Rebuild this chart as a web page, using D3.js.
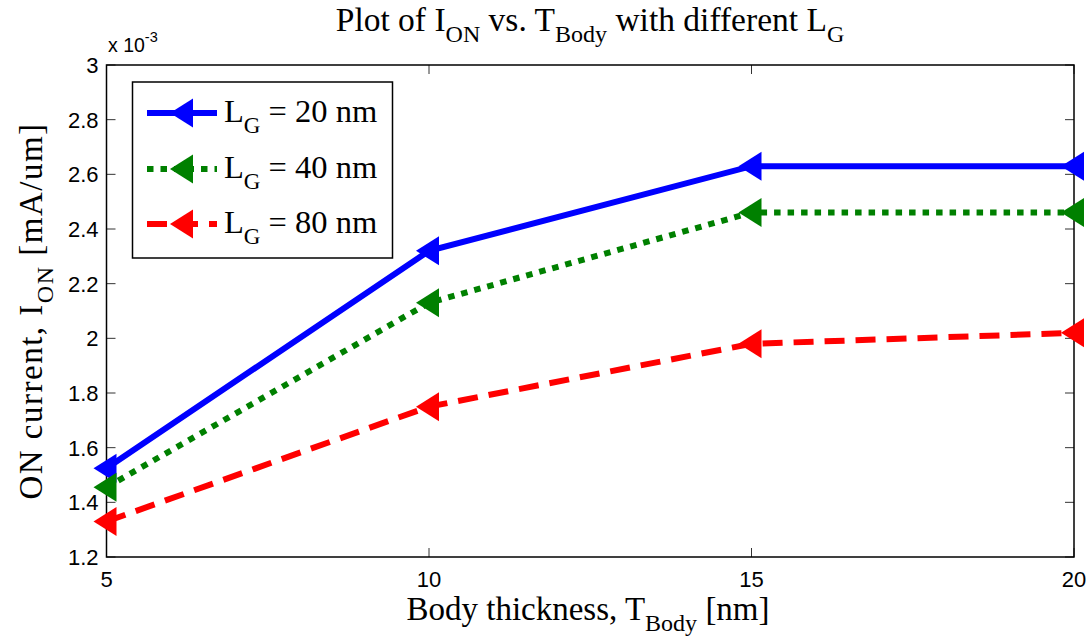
<!DOCTYPE html>
<html>
<head>
<meta charset="utf-8">
<script src="https://cdn.jsdelivr.net/npm/d3@7"></script>
<style>
  body { margin: 0; background: #fff; }
  svg { display: block; }
</style>
</head>
<body>
<div id="chart"></div>
<script>
// body thickness values (nm)
var tBody = [5, 10, 15, 20];
// ON current (x 1e-3 mA/um) for each gate length
var ion20 = [1.525, 2.32, 2.63, 2.63];
var ion40 = [1.455, 2.13, 2.46, 2.46];
var ion80 = [1.33, 1.75, 1.98, 2.02];
var seriesNames = ["20", "40", "80"];
var xTicks = [5, 10, 15, 20];
var yTicks = [1.2, 1.4, 1.6, 1.8, 2, 2.2, 2.4, 2.6, 2.8, 3];

var WIDTH = 1089, HEIGHT = 644;
var margin = {top: 65, right: 15, bottom: 87, left: 106.5};

var svg = d3.select("#chart").append("svg")
  .attr("width", WIDTH)
  .attr("height", HEIGHT);

var x = d3.scaleLinear().domain([5, 20]).range([margin.left, WIDTH - margin.right]);
var y = d3.scaleLinear().domain([1.2, 3]).range([HEIGHT - margin.bottom, margin.top]);

var series = [
  {name: seriesNames[0], values: ion20, color: "#0000ff", dash: null},
  {name: seriesNames[1], values: ion40, color: "#008000", dash: "6.5,7"},
  {name: seriesNames[2], values: ion80, color: "#ff0000", dash: "20,11"}
];

// ticks (inward, on all four sides like matlab box)
var tickLen = 9;
var ticks = svg.append("g").attr("stroke", "#333").attr("stroke-width", 1);
yTicks.forEach(function(v) {
  ticks.append("line").attr("x1", x(5)).attr("x2", x(5) + tickLen).attr("y1", y(v)).attr("y2", y(v));
  ticks.append("line").attr("x1", x(20)).attr("x2", x(20) - tickLen).attr("y1", y(v)).attr("y2", y(v));
});
xTicks.forEach(function(v) {
  ticks.append("line").attr("x1", x(v)).attr("x2", x(v)).attr("y1", y(1.2)).attr("y2", y(1.2) - tickLen);
  ticks.append("line").attr("x1", x(v)).attr("x2", x(v)).attr("y1", y(3)).attr("y2", y(3) + tickLen);
});

// frame
svg.append("rect")
  .attr("x", x(5)).attr("y", y(3))
  .attr("width", x(20) - x(5)).attr("height", y(1.2) - y(3))
  .attr("fill", "none").attr("stroke", "#000").attr("stroke-width", 1.5);

// tick labels
var tickFont = "'Liberation Sans', Arial, sans-serif";
svg.append("g").selectAll("text").data(yTicks).join("text")
  .attr("x", x(5) - 8)
  .attr("y", d => y(d) + 8)
  .attr("text-anchor", "end")
  .style("font-family", tickFont).style("font-size", "22px")
  .text(d => d3.format("")(d));

svg.append("g").selectAll("text").data(xTicks).join("text")
  .attr("x", d => x(d))
  .attr("y", y(1.2) + 30)
  .attr("text-anchor", "middle")
  .style("font-family", tickFont).style("font-size", "22px")
  .text(d => d);

// exponent label
var expo = svg.append("text")
  .attr("x", 108).attr("y", 52)
  .style("font-family", tickFont).style("font-size", "19.5px");
expo.append("tspan").text("x 10");
expo.append("tspan").attr("dy", -10).style("font-size", "14.5px").text("-3");

// lines + markers
var line = d3.line().x((d, i) => x(tBody[i])).y(d => y(d));
var triangle = "M-13,0L10,-14.5L10,14.5Z";

series.forEach(function(s) {
  svg.append("path")
    .datum(s.values)
    .attr("d", line)
    .attr("fill", "none")
    .attr("stroke", s.color)
    .attr("stroke-width", 6)
    .attr("stroke-dasharray", s.dash);
  svg.append("g").selectAll("path").data(s.values).join("path")
    .attr("transform", (d, i) => `translate(${x(tBody[i])},${y(d)})`)
    .attr("d", triangle)
    .attr("fill", s.color);
});

// legend
var serif = "'Liberation Serif', 'Times New Roman', serif";
var legend = svg.append("g");
legend.append("rect")
  .attr("x", 132.5).attr("y", 82)
  .attr("width", 260).attr("height", 176)
  .attr("fill", "#fff").attr("stroke", "#000").attr("stroke-width", 1.5);
var rowY = [113, 169, 224];
series.forEach(function(s, i) {
  legend.append("line")
    .attr("x1", 147).attr("x2", 217)
    .attr("y1", rowY[i]).attr("y2", rowY[i])
    .attr("stroke", s.color).attr("stroke-width", 6)
    .attr("stroke-dasharray", s.dash);
  legend.append("path")
    .attr("transform", `translate(183,${rowY[i]})`)
    .attr("d", triangle)
    .attr("fill", s.color);
  var t = legend.append("text")
    .attr("x", 224).attr("y", rowY[i] + 9)
    .style("font-family", serif).style("font-size", "32.5px");
  t.append("tspan").text("L");
  t.append("tspan").attr("dy", 11).style("font-size", "23px").text("G");
  t.append("tspan").attr("dy", -11).text(" = " + s.name + " nm");
});

// title
var title = svg.append("text")
  .attr("x", 590).attr("y", 31)
  .attr("text-anchor", "middle")
  .style("font-family", serif).style("font-size", "33.5px");
title.append("tspan").text("Plot of I");
title.append("tspan").attr("dy", 11).style("font-size", "24px").text("ON");
title.append("tspan").attr("dy", -11).text(" vs. T");
title.append("tspan").attr("dy", 11).style("font-size", "24px").text("Body");
title.append("tspan").attr("dy", -11).text(" with different L");
title.append("tspan").attr("dy", 11).style("font-size", "24px").text("G");

// x label
var xl = svg.append("text")
  .attr("x", 588).attr("y", 620)
  .attr("text-anchor", "middle")
  .style("font-family", serif).style("font-size", "33px");
xl.append("tspan").text("Body thickness, T");
xl.append("tspan").attr("dy", 11).style("font-size", "24px").text("Body");
xl.append("tspan").attr("dy", -11).text(" [nm]");

// y label
var yl = svg.append("text")
  .attr("transform", "translate(42,311) rotate(-90)")
  .attr("text-anchor", "middle")
  .style("font-family", serif).style("font-size", "33px")
  .style("letter-spacing", "1.5px");
yl.append("tspan").text("ON current, I");
yl.append("tspan").attr("dy", 11).style("font-size", "24px").text("ON");
yl.append("tspan").attr("dy", -11).text(" [mA/um]");
</script>
</body>
</html>
